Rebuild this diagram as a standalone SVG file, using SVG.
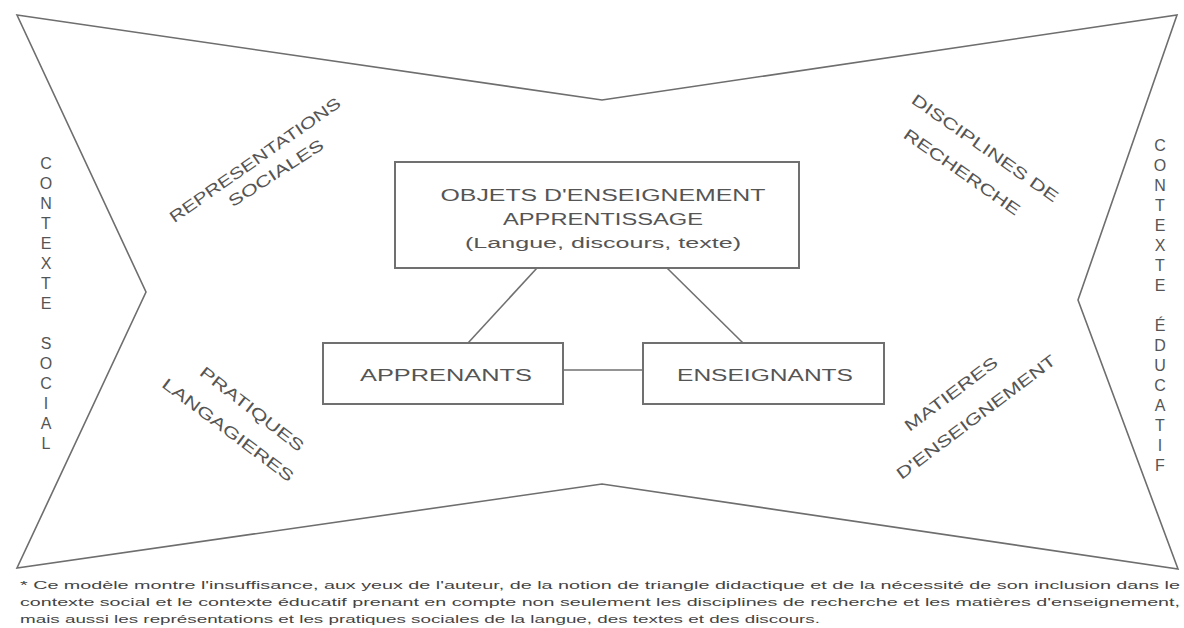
<svg xmlns="http://www.w3.org/2000/svg" width="1184" height="628" viewBox="0 0 1184 628">
<style>
.frame{fill:none;stroke:#6e6e6e;stroke-width:1.6}
.box{fill:#fff;stroke:#707070;stroke-width:2}
.conn{fill:none;stroke:#707070;stroke-width:1.6}
.t{font-family:"Liberation Sans",Arial,sans-serif;fill:#555}
.lbl{font-size:16px;text-anchor:middle;dominant-baseline:central}
.vert{font-size:16px;text-anchor:middle}
.note{font-size:11.5px;fill:#444}
</style>
<rect width="1184" height="628" fill="#fff"/>
<g id="frame">
<polygon class="frame" points="17,15 602,100 1177,15 1078,300 1178,569 602,484 17,568 146,292"/>
</g>
<g id="connectors">
<line class="conn" x1="537" y1="268" x2="468" y2="343"/>
<line class="conn" x1="667" y1="268" x2="743" y2="343"/>
<line class="conn" x1="563" y1="370" x2="643" y2="370"/>
</g>
<g id="node-objets">
<rect class="box" x="395" y="162" width="404" height="106"/>
<text class="t" x="603" y="201" font-size="16" text-anchor="middle" textLength="325" lengthAdjust="spacingAndGlyphs">OBJETS D'ENSEIGNEMENT</text>
<text class="t" x="603" y="225" font-size="16" text-anchor="middle" textLength="200" lengthAdjust="spacingAndGlyphs">APPRENTISSAGE</text>
<text class="t" x="603" y="248" font-size="14" text-anchor="middle" textLength="276" lengthAdjust="spacingAndGlyphs">(Langue, discours, texte)</text>
</g>
<g id="node-apprenants">
<rect class="box" x="323" y="343" width="240" height="61"/>
<text class="t" x="446" y="381" font-size="16" text-anchor="middle" textLength="172" lengthAdjust="spacingAndGlyphs">APPRENANTS</text>
</g>
<g id="node-enseignants">
<rect class="box" x="643" y="343" width="241" height="61"/>
<text class="t" x="765" y="381" font-size="16" text-anchor="middle" textLength="176" lengthAdjust="spacingAndGlyphs">ENSEIGNANTS</text>
</g>
<g id="label-representations" class="t lbl">
<text transform="translate(255,160) rotate(-35)" textLength="205" lengthAdjust="spacingAndGlyphs">REPRESENTATIONS</text>
<text transform="translate(276,173) rotate(-33)" textLength="110" lengthAdjust="spacingAndGlyphs">SOCIALES</text>
</g>
<g id="label-disciplines" class="t lbl">
<text transform="translate(985,148) rotate(35)" textLength="175" lengthAdjust="spacingAndGlyphs">DISCIPLINES DE</text>
<text transform="translate(962,172) rotate(35)" textLength="138" lengthAdjust="spacingAndGlyphs">RECHERCHE</text>
</g>
<g id="label-pratiques" class="t lbl">
<text transform="translate(252,409) rotate(38)" textLength="127" lengthAdjust="spacingAndGlyphs">PRATIQUES</text>
<text transform="translate(228,430) rotate(37)" textLength="160" lengthAdjust="spacingAndGlyphs">LANGAGIERES</text>
</g>
<g id="label-matieres" class="t lbl">
<text transform="translate(951,394) rotate(-37)" textLength="112" lengthAdjust="spacingAndGlyphs">MATIERES</text>
<text transform="translate(976,417) rotate(-37)" textLength="195" lengthAdjust="spacingAndGlyphs">D'ENSEIGNEMENT</text>
</g>
<g id="label-contexte-social" class="t vert">
<text x="46" y="169">C</text><text x="46" y="189">O</text><text x="46" y="209">N</text><text x="46" y="229">T</text><text x="46" y="249">E</text><text x="46" y="269">X</text><text x="46" y="289">T</text><text x="46" y="309">E</text>
<text x="46" y="349">S</text><text x="46" y="369">O</text><text x="46" y="389">C</text><text x="46" y="409">I</text><text x="46" y="429">A</text><text x="46" y="449">L</text>
</g>
<g id="label-contexte-educatif" class="t vert">
<text x="1160" y="151">C</text><text x="1160" y="171">O</text><text x="1160" y="191">N</text><text x="1160" y="211">T</text><text x="1160" y="231">E</text><text x="1160" y="251">X</text><text x="1160" y="271">T</text><text x="1160" y="291">E</text>
<text x="1160" y="331">É</text><text x="1160" y="351">D</text><text x="1160" y="371">U</text><text x="1160" y="391">C</text><text x="1160" y="411">A</text><text x="1160" y="431">T</text><text x="1160" y="451">I</text><text x="1160" y="471">F</text>
</g>
<g id="footnote" class="t note">
<text x="20" y="589" textLength="1160" lengthAdjust="spacingAndGlyphs">* Ce modèle montre l'insuffisance, aux yeux de l'auteur, de la notion de triangle didactique et de la nécessité de son inclusion dans le</text>
<text x="20" y="606" textLength="1160" lengthAdjust="spacingAndGlyphs">contexte social et le contexte éducatif prenant en compte non seulement les disciplines de recherche et les matières d'enseignement,</text>
<text x="20" y="623" textLength="800" lengthAdjust="spacingAndGlyphs">mais aussi les représentations et les pratiques sociales de la langue, des textes et des discours.</text>
</g>
</svg>
